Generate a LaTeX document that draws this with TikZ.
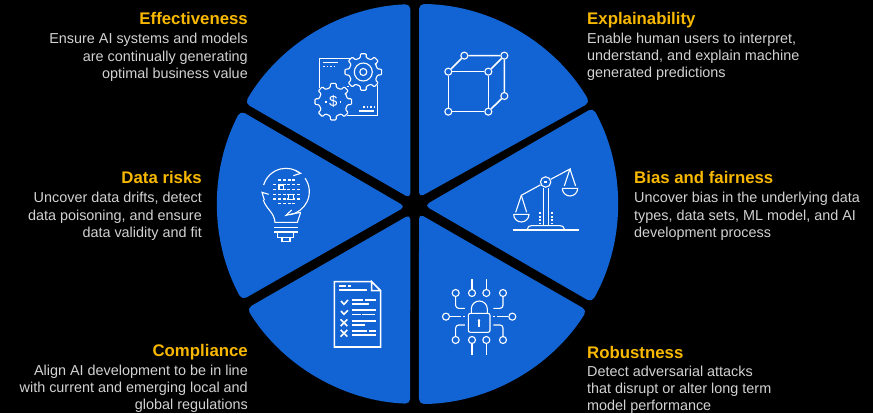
\documentclass[tikz,border=0pt]{standalone}
\usepackage{fontspec}
\setmainfont{Liberation Sans}
\definecolor{wedgeblue}{HTML}{1264D4}
\definecolor{headgold}{HTML}{F8B800}
\definecolor{bodygray}{HTML}{D2D2D2}
\newcommand{\gearicon}{\draw[iconline,fill=wedgeblue,rounded corners=1pt] (-32:14.5) foreach \a in {0,45,...,315} { -- (\a-12:14.5) -- (\a-9:18.5) -- (\a+9:18.5) -- (\a+12:14.5) } -- cycle;}
\tikzset{
  wedge/.style={fill=wedgeblue,rounded corners=5pt},
  headtext/.style={text=headgold,font=\bfseries\fontsize{16.8}{18}\selectfont,inner sep=0pt},
  bodytext/.style={text=bodygray,font=\fontsize{14.4}{17.4}\selectfont,inner sep=0pt},
  iconline/.style={draw=white,line width=1.1pt},
  iconthick/.style={draw=white,line width=1.6pt},
  port/.style={circle,draw=white,fill=wedgeblue,line width=1.1pt,minimum size=7pt,inner sep=0pt},
  zoomed/.style={x=0.3333pt,y=-0.3333pt}
}
\begin{document}
\begin{tikzpicture}[x=1pt,y=-1pt]
\useasboundingbox (0,0) rectangle (873,413);
\fill[black] (0,0) rectangle (873,413);
\fill[wedge] (419,197.4) -- (419,4) arc[start angle=-89.6,end angle=-30.5,radius=200] -- cycle;
\fill[wedge] (424.5,205.5) -- (593,107.8) arc[start angle=-28.7,end angle=29.5,radius=200] -- cycle;
\fill[wedge] (419,213.7) -- (587,310.3) arc[start angle=32.1,end angle=89.6,radius=200] -- cycle;
\fill[wedge] (410.3,214.3) -- (247,308.4) arc[start angle=148.5,end angle=92.1,radius=200] -- cycle;
\fill[wedge] (405.4,206.7) -- (242,300) arc[start angle=151.3,end angle=207.8,radius=200] -- cycle;
\fill[wedge] (410.3,198.3) -- (245,103.1) arc[start angle=-149.7,end angle=-92.1,radius=200] -- cycle;

\node[headtext,anchor=base east] (effhead) at (248,24) {Effectiveness};
\node[bodytext,anchor=north east,align=right] (effbody) at (248,33) {Ensure AI systems and models\\are continually generating\\optimal business value};
\node[headtext,anchor=base east] (riskhead) at (202,183) {Data risks};
\node[bodytext,anchor=north east,align=right] (riskbody) at (202,192) {Uncover data drifts, detect\\data poisoning, and ensure\\data validity and fit};
\node[headtext,anchor=base east] (comphead) at (248,356) {Compliance};
\node[bodytext,anchor=north east,align=right] (compbody) at (248,364.5) {Align AI development to be in line\\with current and emerging local and\\global regulations};
\node[headtext,anchor=base west] (explhead) at (587,24) {Explainability};
\node[bodytext,anchor=north west,align=left] (explbody) at (587,32.5) {Enable human users to interpret,\\understand, and explain machine\\generated predictions};
\node[headtext,anchor=base west] (biashead) at (634,183) {Bias and fairness};
\node[bodytext,anchor=north west,align=left] (biasbody) at (634,192) {Uncover bias in the underlying data\\types, data sets, ML model, and AI\\development process};
\node[headtext,anchor=base west] (robhead) at (587,358) {Robustness};
\node[bodytext,anchor=north west,align=left] (robbody) at (587,365.5) {Detect adversarial attacks\\that disrupt or alter long term\\model performance};

\begin{scope}[shift={(410,0)},zoomed]
\node[port] (cubea) at (115,215) {};
\node[port] (cubeb) at (235,215) {};
\node[port] (cubec) at (235,335) {};
\node[port] (cubed) at (115,335) {};
\node[port] (cubee) at (163,167) {};
\node[port] (cubef) at (283,167) {};
\node[port] (cubeg) at (283,288) {};
\draw[iconthick] (cubea) -- (cubeb) -- (cubec) -- (cubed) -- (cubea);
\draw[iconthick] (cubea) -- (cubee) -- (cubef) -- (cubeg) -- (cubec);
\draw[iconthick] (cubeb) -- (cubef);
\end{scope}

\begin{scope}[shift={(230,0)},zoomed]
\draw[iconline] (362,175) -- (268,175) -- (268,265);
\draw[iconline] (442,255) -- (442,347) -- (350,347);
\draw[iconline] (278,187) -- (325,187);
\draw[iconline] (388,333) -- (432,333);
\draw[iconthick,dash pattern=on 1.5pt off 2pt] (280,200) -- (312,200);
\draw[iconthick,dash pattern=on 1.5pt off 2pt] (400,321) -- (432,321);
\draw[iconthick] (352,260) -- (358,260);
\end{scope}
\begin{scope}[shift={(363.3,72)}]
\gearicon
\draw[iconline] (0,0) circle[radius=9];
\draw[iconline] (0,0) circle[radius=3.5];
\end{scope}
\begin{scope}[shift={(333.3,101.7)}]
\gearicon
\node[text=white,font=\fontsize{15}{15}\selectfont,inner sep=0pt] (dollar) at (0,0) {\$};
\draw[iconthick] (-8,0) -- (-6.5,0) (6.5,0) -- (8,0);
\end{scope}

\begin{scope}[shift={(420,105)},zoomed]
\draw[iconthick] (279,375) -- (477,375);
\draw[iconline] (322,372) .. controls (324,364) and (328,362) .. (335,362) -- (420,362) .. controls (427,362) and (431,364) .. (433,372);
\draw[iconline] (370,248) -- (370,362) (385,248) -- (385,362);
\node[port,minimum size=10.4pt] (pivot) at (377,231) {};
\draw[iconthick] (373,231) -- (381,231);
\coordinate (beaml) at (304,271);
\coordinate (beamr) at (450,192);
\draw[iconline] (pivot) -- (beaml) -- (287,322);
\draw[iconline] (beaml) -- (320,322);
\draw[iconline] (pivot) -- (beamr) -- (433,243);
\draw[iconline] (beamr) -- (467,243);
\draw[iconline] (281,328) -- (327,328) arc[start angle=0,end angle=180,radius=23];
\draw[iconline] (427,250) -- (473,250) arc[start angle=0,end angle=180,radius=23];
\draw[iconthick,dash pattern=on 2pt off 1.5pt] (360,322) -- (360,357);
\draw[iconthick,dash pattern=on 2pt off 1.5pt] (396,322) -- (396,357);
\end{scope}

\begin{scope}[shift={(410,205)},zoomed]
\draw[iconline,rounded corners=2pt] (175,325) rectangle (240,382);
\draw[iconline] (184,325) -- (184,312) arc[start angle=180,end angle=360,radius=24] -- (232,325);
\draw[white,fill=white] (207,346) circle[radius=3];
\draw[iconline] (207,346) -- (207,365);
\foreach \n/\x/\y in {a/137/264,b/186/264,c/229/264,d/279/264,e/137/405,f/186/405,g/229/405,h/279/405,i/108/335,j/307/335}
  \node[port] (lock\n) at (\x,\y) {};
\coordinate (topb) at (186,222);
\coordinate (topc) at (229,222);
\coordinate (botf) at (186,450);
\coordinate (botg) at (229,450);
\draw[iconthick] (lockb) -- (topb) (lockc) -- (topc) (lockf) -- (botf) (lockg) -- (botg);
\draw[iconline,rounded corners=3pt] (locka) -- (137,310) -- (165,310);
\draw[iconline,rounded corners=3pt] (lockd) -- (279,310) -- (250,310);
\draw[iconline,rounded corners=3pt] (locke) -- (137,360) -- (165,360);
\draw[iconline,rounded corners=3pt] (lockh) -- (279,360) -- (250,360);
\draw[iconthick] (locki) -- (152,335) (158,335) -- (165,335);
\draw[iconthick] (lockj) -- (262,335) (250,335) -- (256,335);
\end{scope}

\begin{scope}[shift={(230,205)},zoomed]
\draw[iconthick,line join=miter] (425,230) -- (313,230) -- (313,426) -- (452,426) -- (452,257) -- (425,230) -- (425,257) -- (452,257);
\draw[iconthick] (328,243) -- (347,243) (353,243) -- (362,243) (328,255) -- (410,255);
\draw[iconthick] (333,288) -- (342,298) -- (354,285) (333,318) -- (342,328) -- (354,316);
\draw[iconthick] (332,343) -- (352,363) (352,343) -- (332,363) (332,375) -- (352,395) (352,375) -- (332,395);
\draw[iconthick] (366,285) -- (398,285) (405,285) -- (438,285) (366,297) -- (416,297);
\draw[iconthick] (366,315) -- (438,315) (366,329) -- (392,329) (397,329) -- (435,329);
\draw[iconthick] (366,348) -- (438,348) (366,360) -- (405,360);
\draw[iconthick] (366,378) -- (411,378) (418,378) -- (438,378) (366,390) -- (438,390);
\end{scope}

\begin{scope}[shift={(210,105)},zoomed]
\draw[iconline] (228,260) ++(-163.6:70) arc[start angle=-163.6,end angle=-52.6,radius=70];
\draw[iconline] (228,260) ++(-35:70) arc[start angle=-35,end angle=80,radius=70];
\draw[iconline] (250,212) -- (272,205) -- (258,198);
\draw[iconline] (245,315) -- (228,331) -- (272,322);
\draw[iconline] (176,268) -- (156,262) -- (163,285);
\draw[iconline] (160,285) .. controls (170,315) and (192,320) .. (195,352) -- (262,352) -- (272,322);
\draw[iconthick] (192,368) -- (264,368) (192,381) -- (264,381);
\draw[iconline] (203,381) -- (203,397) -- (250,397) -- (250,381);
\draw[iconline] (216,397) -- (216,410) -- (240,410) -- (240,397);
\foreach \y/\a/\b in {225/205/255,239/190/270,253/190/270,268/190/270,282/190/270,296/205/255}
  \draw[iconthick,dash pattern=on 3pt off 1.7pt] (\a,\y) -- (\b,\y);
\draw[iconline,fill=wedgeblue] (207,240) rectangle (221,254);
\draw[iconline,fill=wedgeblue] (236,269) rectangle (250,283);
\end{scope}
\end{tikzpicture}
\end{document}
